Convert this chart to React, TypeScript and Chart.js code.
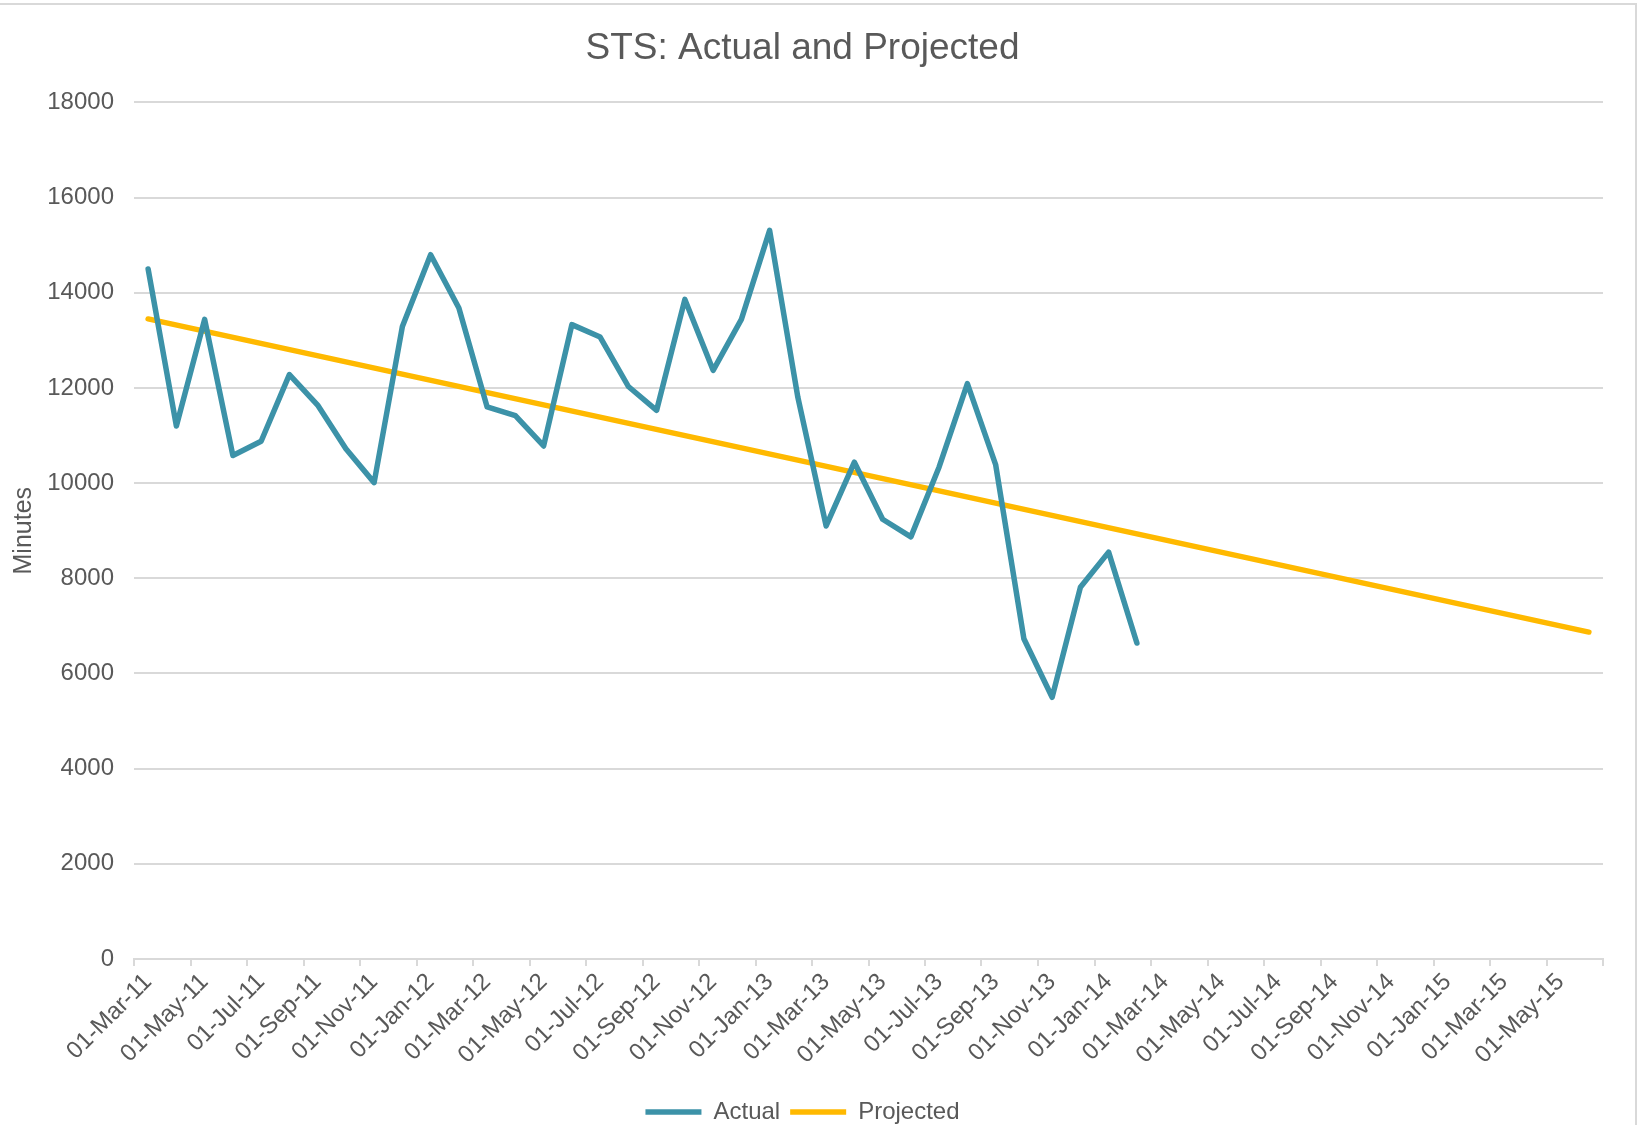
import React, { useEffect, useRef } from "react";
import { Chart, registerables } from "chart.js";

Chart.register(...registerables);

// Monthly categories (Mar-11 .. Jun-15)
const months = [
  "Mar-11", "Apr-11", "May-11", "Jun-11", "Jul-11", "Aug-11", "Sep-11", "Oct-11", "Nov-11", "Dec-11",
  "Jan-12", "Feb-12", "Mar-12", "Apr-12", "May-12", "Jun-12", "Jul-12", "Aug-12", "Sep-12", "Oct-12", "Nov-12", "Dec-12",
  "Jan-13", "Feb-13", "Mar-13", "Apr-13", "May-13", "Jun-13", "Jul-13", "Aug-13", "Sep-13", "Oct-13", "Nov-13", "Dec-13",
  "Jan-14", "Feb-14", "Mar-14", "Apr-14", "May-14", "Jun-14", "Jul-14", "Aug-14", "Sep-14", "Oct-14", "Nov-14", "Dec-14",
  "Jan-15", "Feb-15", "Mar-15", "Apr-15", "May-15", "Jun-15",
];

// Actual minutes, Mar-11 .. Feb-14
const actual = [
  14500, 11200, 13440, 10580, 10880, 12280, 11640, 10720, 10010, 13290,
  14800, 13680, 11600, 11420, 10780, 13330, 13070, 12030, 11530, 13860,
  12370, 13440, 15310, 11800, 9100, 10440, 9240, 8870, 10340, 12090,
  10390, 6730, 5500, 7810, 8550, 6640,
];

// Projected trend line end points
const projectedMonths = ["Mar-11", "Jun-15"];
const projectedValues = [13450, 6870];

// X axis tick labels (every two months)
const tickLabels = [
  "01-Mar-11", "01-May-11", "01-Jul-11", "01-Sep-11", "01-Nov-11",
  "01-Jan-12", "01-Mar-12", "01-May-12", "01-Jul-12", "01-Sep-12", "01-Nov-12",
  "01-Jan-13", "01-Mar-13", "01-May-13", "01-Jul-13", "01-Sep-13", "01-Nov-13",
  "01-Jan-14", "01-Mar-14", "01-May-14", "01-Jul-14", "01-Sep-14", "01-Nov-14",
  "01-Jan-15", "01-Mar-15", "01-May-15",
];

const FONT = "'Liberation Sans', Arial, sans-serif";
const TEXT = "#595959";
const GRID = "#d9d9d9";

export default function App() {
  const ref = useRef<HTMLCanvasElement | null>(null);

  useEffect(() => {
    if (!ref.current) return;
    const actualPts = actual.map((v, i) => ({ x: i + 0.5, y: v }));
    const projPts = projectedMonths.map((m, i) => ({ x: months.indexOf(m) + 0.5, y: projectedValues[i] }));
    const chart = new Chart(ref.current, {
      type: "line",
      data: {
        datasets: [
          {
            label: "Actual",
            data: actualPts,
            xAxisID: "x",
            borderColor: "#3C92A8",
            backgroundColor: "#3C92A8",
            borderWidth: 5.5,
            pointRadius: 0,
            borderCapStyle: "round",
            borderJoinStyle: "round",
            tension: 0,
          },
          {
            label: "Projected",
            data: projPts,
            xAxisID: "x",
            borderColor: "#FFB900",
            backgroundColor: "#FFB900",
            borderWidth: 5.5,
            pointRadius: 0,
            borderCapStyle: "round",
            borderJoinStyle: "round",
            tension: 0,
          },
        ],
      },
      options: {
        responsive: false,
        animation: false,
        devicePixelRatio: 1,
        layout: { padding: { left: 2, right: 42, top: 0, bottom: -9 } },
        plugins: {
          title: {
            display: true,
            text: "STS: Actual and Projected",
            color: TEXT,
            font: { family: FONT, size: 37, weight: "normal" },
            padding: { top: 27, bottom: 31 },
          },
          legend: {
            position: "bottom",
            labels: {
              color: TEXT,
              font: { family: FONT, size: 24 },
              usePointStyle: true,
              pointStyle: "line",
              pointStyleWidth: 56,
              padding: 10,
            },
          },
          tooltip: { enabled: false },
        },
        scales: {
          x: {
            type: "linear",
            position: "bottom",
            weight: 0,
            min: 0,
            max: 52,
            border: { display: true, color: GRID, width: 2 },
            grid: { drawOnChartArea: false, drawTicks: true, tickLength: 7, color: GRID, lineWidth: 2 },
            ticks: {
              stepSize: 2,
              autoSkip: false,
              display: false,
            },
            afterFit: (scale: any) => {
              scale.height = 9;
            },
          },
          x2: {
            type: "linear",
            axis: "x",
            position: "bottom",
            weight: 1,
            min: 0,
            max: 52,
            border: { display: false },
            grid: { display: false, drawTicks: false },
            afterBuildTicks: (scale: any) => {
              scale.ticks = tickLabels.map((_, i) => ({ value: i * 2 + 0.5 }));
            },
            ticks: {
              autoSkip: false,
              maxRotation: 45,
              minRotation: 45,
              color: TEXT,
              font: { family: FONT, size: 24 },
              padding: 0,
              callback: (_v: any, i: number) => tickLabels[i] ?? "",
            },
            afterFit: (scale: any) => {
              scale.height = 122;
            },
          },
          y: {
            min: 0,
            max: 18000,
            border: { display: false },
            grid: { color: GRID, lineWidth: 2, drawTicks: false },
            ticks: {
              stepSize: 2000,
              color: TEXT,
              font: { family: FONT, size: 24 },
              padding: 20,
              callback: (v: any) => String(v),
            },
            title: {
              display: true,
              text: "Minutes",
              color: TEXT,
              font: { family: FONT, size: 25 },
              padding: { top: 7, bottom: 0 },
            },
            afterFit: (scale: any) => {
              scale.width = 132;
            },
          },
        },
      },
    });
    return () => chart.destroy();
  }, []);

  return (
    <div style={{ position: "fixed", left: 0, top: 0, width: 1645, height: 1125, background: "#fff", overflow: "hidden" }}>
      <div
        style={{
          position: "absolute",
          left: 0,
          top: 3,
          width: 1635,
          height: 1140,
          borderTop: `2px solid ${GRID}`,
          borderRight: `2px solid ${GRID}`,
        }}
      />
      <canvas ref={ref} width={1645} height={1125} style={{ position: "absolute", left: 0, top: 0 }} />
    </div>
  );
}
